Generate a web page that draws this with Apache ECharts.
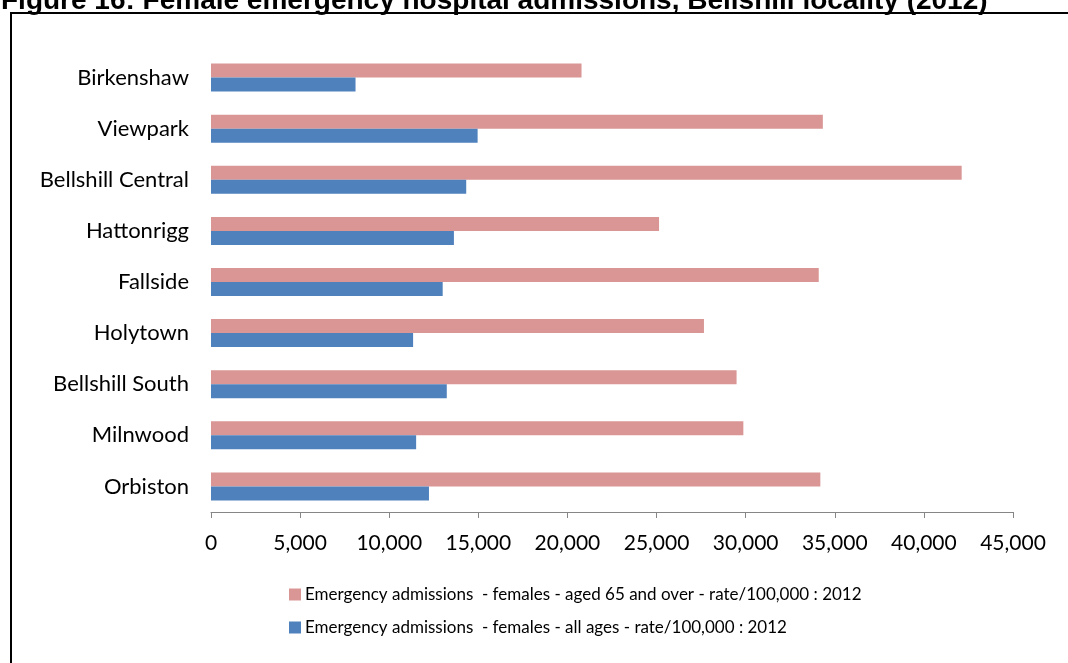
<!DOCTYPE html>
<html>
<head>
<meta charset="utf-8">
<script src="https://cdn.jsdelivr.net/npm/echarts@6/dist/echarts.min.js"></script>
<style>
  html, body { margin: 0; padding: 0; background: #ffffff; }
  #chart { width: 1068px; height: 663px; }
</style>
</head>
<body>
<div id="chart"></div>
<script>
// Bellshill locality neighbourhoods, top to bottom
const areas = ['Birkenshaw', 'Viewpark', 'Bellshill Central', 'Hattonrigg', 'Fallside',
               'Holytown', 'Bellshill South', 'Milnwood', 'Orbiston'];

// Emergency admission rates per 100,000 females, 2012
const aged65Plus = [20790, 34330, 42120, 25140, 34100, 27660, 29490, 29870, 34190];
const allAges    = [8110, 14960, 14320, 13630, 13000, 11340, 13230, 11510, 12230];

const seriesNames = [
  'Emergency admissions  - females - aged 65 and over - rate/100,000 : 2012',
  'Emergency admissions  - females - all ages - rate/100,000 : 2012'
];

const xTicks = { min: 0, max: 45000, step: 5000 };

const titleText = 'Figure 16: Female emergency hospital admissions, Bellshill locality (2012)';

const FONT = 'Lato, "Liberation Sans", sans-serif';

const chart = echarts.init(document.getElementById('chart'), null, { renderer: 'canvas' });

chart.setOption({
  backgroundColor: '#ffffff',
  animation: false,
  graphic: [
    {
      type: 'text',
      left: 1,
      top: -13,
      style: {
        text: titleText,
        font: 'bold 28px "Liberation Sans", Arial, sans-serif',
        fill: '#000000'
      }
    },
    {
      type: 'rect',
      shape: { x: 11, y: 13, width: 1100, height: 700 },
      style: { fill: 'none', stroke: '#000000', lineWidth: 2 },
      z: -1
    }
  ],
  grid: { left: 211, right: 55, top: 52, bottom: 151, containLabel: false },
  legend: {
    orient: 'vertical',
    left: 289,
    top: 586,
    padding: 0,
    itemWidth: 12,
    itemHeight: 12,
    itemGap: 16,
    icon: 'rect',
    data: seriesNames,
    textStyle: { fontFamily: FONT, fontSize: 17, color: '#000000', padding: [0, 0, 0, -1] }
  },
  xAxis: {
    type: 'value',
    min: xTicks.min,
    max: xTicks.max,
    interval: xTicks.step,
    splitLine: { show: false },
    axisLine: { show: true, lineStyle: { color: '#868686', width: 1 } },
    axisTick: { show: true, length: 6, lineStyle: { color: '#868686' } },
    axisLabel: {
      margin: 21,
      fontFamily: FONT,
      fontSize: 21,
      color: '#000000',
      formatter: v => v.toLocaleString('en-GB')
    }
  },
  yAxis: {
    type: 'category',
    data: areas,
    inverse: true,
    axisLine: { show: false },
    axisTick: { show: false },
    axisLabel: { margin: 22, fontFamily: FONT, fontSize: 22, color: '#000000' }
  },
  series: [
    {
      name: seriesNames[0],
      type: 'bar',
      data: aged65Plus,
      barWidth: 14,
      barGap: '0%',
      itemStyle: { color: '#D99694' }
    },
    {
      name: seriesNames[1],
      type: 'bar',
      data: allAges,
      barWidth: 14,
      barGap: '0%',
      itemStyle: { color: '#4F81BD' }
    }
  ]
});
</script>
</body>
</html>
